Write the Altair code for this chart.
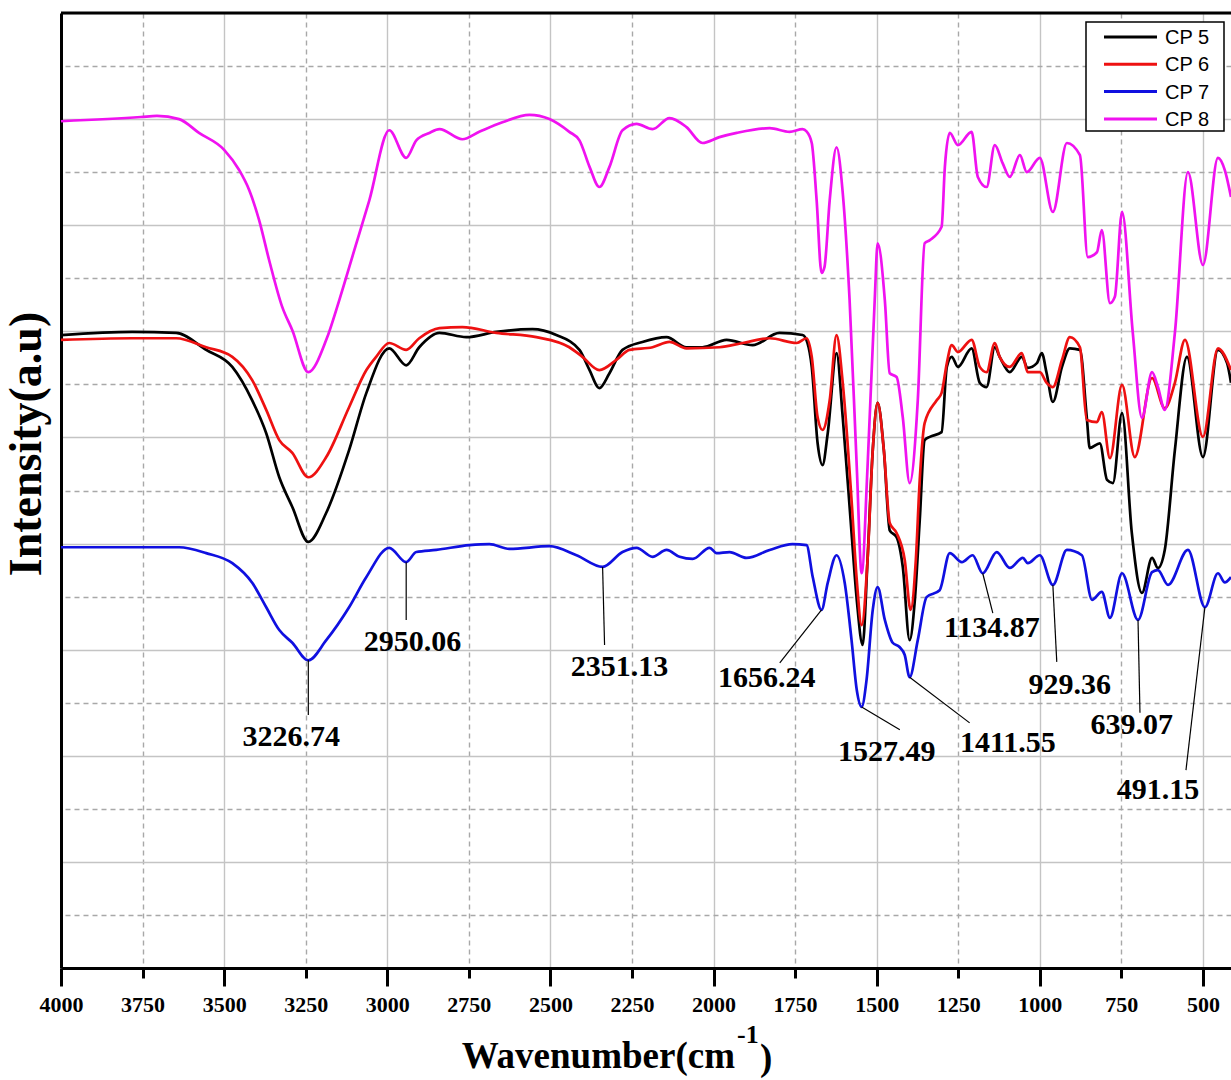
import altair as alt
import pandas as pd

# ---------------- data ----------------
series_names = ["CP 5", "CP 6", "CP 7", "CP 8"]
series_colors = ["#000000", "#ee1111", "#1010e0", "#f012f0"]

cp5_wn = [4000, 3782, 3647, 3555, 3475, 3414, 3371, 3331, 3291, 3242, 3187, 3117, 3064, 2994, 2942, 2902,
          2840, 2758, 2666, 2555, 2482, 2411, 2380, 2350, 2319, 2279, 2218, 2144, 2083, 2034, 1960, 1880,
          1798, 1727, 1712, 1699, 1681, 1666, 1650, 1623, 1604, 1577, 1561, 1543, 1528, 1512, 1497, 1478,
          1460, 1439, 1420, 1399, 1383, 1368, 1353, 1337, 1301, 1285, 1270, 1251, 1209, 1184, 1163, 1138,
          1123, 1092, 1055, 1037, 1009, 994, 979, 960, 932, 908, 877, 856, 847, 816, 794, 776, 748, 718,
          687, 656, 638, 617, 586, 549, 500, 454, 426, 414]
cp5_val = [11.93, 11.99, 11.97, 11.65, 11.33, 10.70, 10.08, 9.25, 8.69, 8.03, 8.58, 9.76, 10.84, 11.68, 11.36, 11.70,
           11.97, 11.89, 11.99, 12.04, 11.93, 11.65, 11.27, 10.93, 11.21, 11.65, 11.80, 11.89, 11.70, 11.70, 11.84, 11.74,
           11.97, 11.93, 11.78, 11.33, 9.89, 9.48, 10.08, 11.59, 10.38, 8.20, 6.94, 6.09, 7.69, 9.76, 10.65, 9.76,
           8.25, 8.12, 7.56, 6.18, 6.94, 8.44, 9.95, 10.01, 10.10, 11.33, 11.52, 11.33, 11.68, 11.03, 10.95, 11.70,
           11.52, 11.23, 11.52, 11.31, 11.40, 11.59, 11.21, 10.67, 11.33, 11.68, 11.65, 10.38, 9.80, 9.89, 9.20, 9.14, 10.46, 8.20,
           7.07, 7.73, 7.54, 7.88, 9.76, 11.52, 9.63, 11.65, 11.40, 11.03]

cp6_wn = [4000, 3782, 3647, 3555, 3475, 3414, 3371, 3331, 3291, 3242, 3187, 3117, 3064, 3034, 2994, 2942,
          2902, 2840, 2770, 2666, 2543, 2442, 2402, 2350, 2298, 2258, 2187, 2135, 2083, 1982, 1911, 1828,
          1745, 1715, 1699, 1681, 1666, 1644, 1623, 1604, 1577, 1561, 1546, 1528, 1512, 1497, 1478, 1460,
          1439, 1414, 1396, 1380, 1368, 1353, 1316, 1301, 1285, 1270, 1251, 1209, 1184, 1163, 1138, 1123,
          1092, 1055, 1037, 1000, 979, 960, 932, 908, 877, 856, 825, 810, 785, 748, 709, 656, 617, 586,
          555, 500, 454, 414]
cp6_val = [11.84, 11.87, 11.87, 11.70, 11.52, 11.08, 10.52, 9.95, 9.71, 9.25, 9.63, 10.57, 11.27, 11.52, 11.78, 11.65,
           11.87, 12.06, 12.08, 11.97, 11.89, 11.70, 11.52, 11.27, 11.46, 11.65, 11.70, 11.80, 11.68, 11.70, 11.78, 11.87,
           11.78, 11.87, 11.52, 10.38, 10.14, 10.70, 11.93, 11.03, 8.82, 7.31, 6.46, 7.69, 9.76, 10.65, 9.76, 8.39,
           8.20, 7.69, 6.75, 7.69, 9.20, 10.27, 10.70, 10.84, 11.40, 11.74, 11.61, 11.84, 11.33, 11.23, 11.78, 11.52,
           11.33, 11.59, 11.23, 11.23, 11.03, 10.95, 11.46, 11.89, 11.70, 10.33, 10.29, 10.48, 9.61, 10.99, 9.63, 11.12, 10.55, 11.03,
           11.84, 10.01, 11.68, 11.27]

cp7_wn = [4000, 3782, 3638, 3555, 3475, 3414, 3371, 3331, 3291, 3242, 3187, 3117, 3064, 2994, 2942, 2911,
          2850, 2748, 2687, 2626, 2503, 2420, 2340, 2279, 2236, 2187, 2144, 2104, 2064, 2012, 1991, 1951,
          1899, 1828, 1758, 1715, 1696, 1669, 1650, 1623, 1598, 1577, 1561, 1546, 1531, 1512, 1497, 1475,
          1451, 1430, 1414, 1399, 1374, 1347, 1307, 1276, 1239, 1206, 1175, 1132, 1092, 1052, 1037, 1000,
          960, 917, 871, 840, 810, 785, 748, 699, 656, 638, 607, 546, 494, 454, 433, 414]
cp7_val = [7.93, 7.93, 7.93, 7.82, 7.63, 7.26, 6.80, 6.37, 6.13, 5.80, 6.18, 6.80, 7.37, 7.92, 7.65, 7.84,
           7.88, 7.97, 7.99, 7.90, 7.95, 7.78, 7.56, 7.84, 7.92, 7.75, 7.88, 7.75, 7.71, 7.92, 7.82, 7.84,
           7.73, 7.88, 7.99, 7.97, 7.37, 6.75, 7.26, 7.78, 7.26, 6.18, 5.24, 4.92, 5.43, 6.75, 7.18, 6.56,
           6.13, 6.05, 5.90, 5.48, 6.18, 6.99, 7.12, 7.82, 7.65, 7.78, 7.44, 7.84, 7.54, 7.73, 7.63, 7.78,
           7.22, 7.88, 7.78, 6.94, 7.09, 6.60, 7.44, 6.56, 7.46, 7.50, 7.22, 7.88, 6.80, 7.44, 7.27, 7.37]

cp8_wn = [4000, 3755, 3706, 3638, 3577, 3500, 3454, 3423, 3393, 3362, 3322, 3291, 3242, 3187, 3147, 3101,
          3055, 2994, 2942, 2911, 2871, 2840, 2770, 2718, 2647, 2564, 2503, 2442, 2411, 2380, 2350, 2319,
          2279, 2236, 2187, 2135, 2083, 2034, 1982, 1929, 1828, 1767, 1727, 1715, 1699, 1684, 1669, 1660,
          1644, 1623, 1604, 1583, 1561, 1546, 1528, 1506, 1497, 1475, 1460, 1439, 1420, 1399, 1374, 1353,
          1337, 1301, 1291, 1276, 1251, 1209, 1190, 1163, 1138, 1114, 1092, 1061, 1040, 1000, 960, 917,
          877, 853, 825, 810, 785, 770, 748, 715, 687, 656, 638, 617, 586, 546, 500, 454, 433, 414]
cp8_val = [15.96, 16.04, 16.06, 16.00, 15.74, 15.42, 15.04, 14.66, 14.10, 13.34, 12.46, 12.02, 11.23, 11.84, 12.59, 13.53,
           14.47, 15.79, 15.27, 15.60, 15.74, 15.81, 15.62, 15.76, 15.94, 16.08, 16.00, 15.76, 15.60, 15.10, 14.72, 15.10,
           15.79, 15.91, 15.81, 16.02, 15.85, 15.55, 15.66, 15.74, 15.83, 15.76, 15.81, 15.77, 15.55, 14.47, 13.10, 13.21,
           14.47, 15.47, 14.61, 12.59, 9.44, 7.44, 9.44, 12.59, 13.66, 12.59, 11.21, 11.14, 10.38, 9.14, 10.70, 13.66,
           13.72, 13.97, 15.10, 15.74, 15.51, 15.76, 14.91, 14.72, 15.51, 15.17, 14.91, 15.32, 15.00, 15.27, 14.25, 15.55,
           15.32, 13.40, 13.49, 13.91, 12.53, 12.65, 14.25, 11.97, 10.37, 11.23, 10.95, 10.52, 11.97, 15.00, 13.25, 15.27, 15.04, 14.53]

# peak annotations on CP 7: label, peak position, leader-line end, label position
ann_label = ["3226.74", "2950.06", "2351.13", "1656.24", "1527.49", "1411.55", "1134.87", "929.36", "639.07", "491.15"]
ann_peak_wn = [3242, 2942, 2340, 1669, 1546, 1399, 1175, 960, 699, 494]
ann_peak_val = [5.80, 7.65, 7.56, 6.75, 4.92, 5.48, 7.44, 7.22, 6.56, 6.80]
ann_end_wn = [3242, 2942, 2334, 1797, 1429, 1215, 1144, 948, 693, 552]
ann_end_val = [4.77, 6.56, 6.09, 5.75, 4.49, 4.62, 6.69, 5.77, 4.81, 3.73]
ann_text_wn = [3294, 2923, 2288, 1837, 1469, 1098, 1147, 908, 718, 638]
ann_text_val = [4.35, 6.14, 5.67, 5.47, 4.07, 4.24, 6.41, 5.33, 4.58, 3.35]

x_ticks = list(range(4000, 499, -250))
y_grid = list(range(0, 19))

# ---------------- frames ----------------
frames = []
for name, wn, val in zip(series_names, [cp5_wn, cp6_wn, cp7_wn, cp8_wn], [cp5_val, cp6_val, cp7_val, cp8_val]):
    frames.append(pd.DataFrame({"series": name, "wn": wn, "val": val}))
spec_df = pd.concat(frames, ignore_index=True)

ann_df = pd.DataFrame({"label": ann_label, "wn": ann_peak_wn, "val": ann_peak_val,
                       "wn2": ann_end_wn, "val2": ann_end_val})
ann_txt_df = pd.DataFrame({"label": ann_label, "wn": ann_text_wn, "val": ann_text_val})

W, H = 1170, 955
SERIF = "Liberation Serif"
MAJOR = "datum.value % 500 === 0"

x_axis = alt.Axis(
    values=x_ticks, format="d", title=None,
    labelFont=SERIF, labelFontSize=22, labelFontWeight="bold", labelColor="black",
    labelPadding={"condition": {"test": MAJOR, "value": 8}, "value": 16},
    labelFlush=False, labelOverlap=False,
    domainColor="black", domainWidth=3,
    tickColor="black", tickWidth=3,
    tickSize={"condition": {"test": MAJOR, "value": 18}, "value": 10},
    grid=True,
    gridDash={"condition": {"test": MAJOR, "value": [1, 0]}, "value": [5, 4]},
    gridColor={"condition": {"test": MAJOR, "value": "#c4c4c4"}, "value": "#a8a8a8"},
    gridWidth=1.4,
)
y_axis = alt.Axis(
    values=y_grid, labels=False, ticks=False, title=None,
    domainColor="black", domainWidth=3,
    grid=True,
    gridDash={"condition": {"test": "datum.value % 2 === 0", "value": [1, 0]}, "value": [5, 4]},
    gridColor={"condition": {"test": "datum.value % 2 === 0", "value": "#c4c4c4"}, "value": "#a8a8a8"},
    gridWidth=1.4,
)
xs = alt.Scale(domain=[414, 4000], reverse=True, nice=False, zero=False)
ys = alt.Scale(domain=[0, 18], nice=False, zero=False)

X = alt.X("wn:Q", scale=xs, axis=x_axis)
Y = alt.Y("val:Q", scale=ys, axis=y_axis)

lines = alt.Chart(spec_df).mark_line(strokeWidth=2.7, interpolate="monotone").encode(
    x=X, y=Y,
    color=alt.Color("series:N", scale=alt.Scale(domain=series_names, range=series_colors), legend=None),
    detail="series:N",
)

ann_rules = alt.Chart(ann_df).mark_rule(color="black", strokeWidth=1.2).encode(
    x=X, y=Y, x2="wn2:Q", y2="val2:Q"
)
ann_text = alt.Chart(ann_txt_df).mark_text(
    font=SERIF, fontSize=30, fontWeight="bold", color="black", align="center", baseline="middle"
).encode(x=X, y=Y, text="label:N")

one = pd.DataFrame({"a": [0]})

top_border = alt.Chart(one).mark_rule(color="black", strokeWidth=3).encode(
    x=alt.value(0), x2=alt.value(W), y=alt.value(0)
)

# legend box (manual)
legend_box = alt.Chart(one).mark_rect(fill="white", stroke="black", strokeWidth=1.5).encode(
    x=alt.value(1025), x2=alt.value(1163), y=alt.value(9), y2=alt.value(118)
)
legend_layers = []
for i, (name, col) in enumerate(zip(series_names, series_colors)):
    yy = 24 + i * 27.3
    legend_layers.append(
        alt.Chart(one).mark_rule(color=col, strokeWidth=3).encode(
            x=alt.value(1043), x2=alt.value(1096), y=alt.value(yy)
        )
    )
    legend_layers.append(
        alt.Chart(one).mark_text(
            text=name, font="Liberation Sans", fontSize=20, color="black", align="left", baseline="middle"
        ).encode(x=alt.value(1104), y=alt.value(yy + 1))
    )

# axis titles as text
y_title = alt.Chart(one).mark_text(
    text="Intensity(a.u)", font=SERIF, fontSize=46, fontWeight="bold", color="black",
    angle=270, align="center", baseline="middle"
).encode(x=alt.value(-34), y=alt.value(431))
x_title_main = alt.Chart(one).mark_text(
    text="Wavenumber(cm", font=SERIF, fontSize=37, fontWeight="bold", color="black",
    align="right", baseline="alphabetic"
).encode(x=alt.value(674), y=alt.value(1055))
x_title_sup = alt.Chart(one).mark_text(
    text="-1", font=SERIF, fontSize=26, fontWeight="bold", color="black",
    align="left", baseline="alphabetic"
).encode(x=alt.value(676), y=alt.value(1030))
x_title_close = alt.Chart(one).mark_text(
    text=")", font=SERIF, fontSize=37, fontWeight="bold", color="black",
    align="left", baseline="alphabetic"
).encode(x=alt.value(699), y=alt.value(1057))

chart = alt.layer(
    lines, ann_rules, ann_text, top_border, legend_box, *legend_layers,
    y_title, x_title_main, x_title_sup, x_title_close
).properties(
    width=W, height=H,
    padding={"left": 61, "top": 13, "right": 0, "bottom": 112},
    autosize=alt.AutoSizeParams(type="none"),
    background="white",
).configure_view(stroke=None)

chart.save("out.html", embed_options={"renderer": "svg", "actions": False})
